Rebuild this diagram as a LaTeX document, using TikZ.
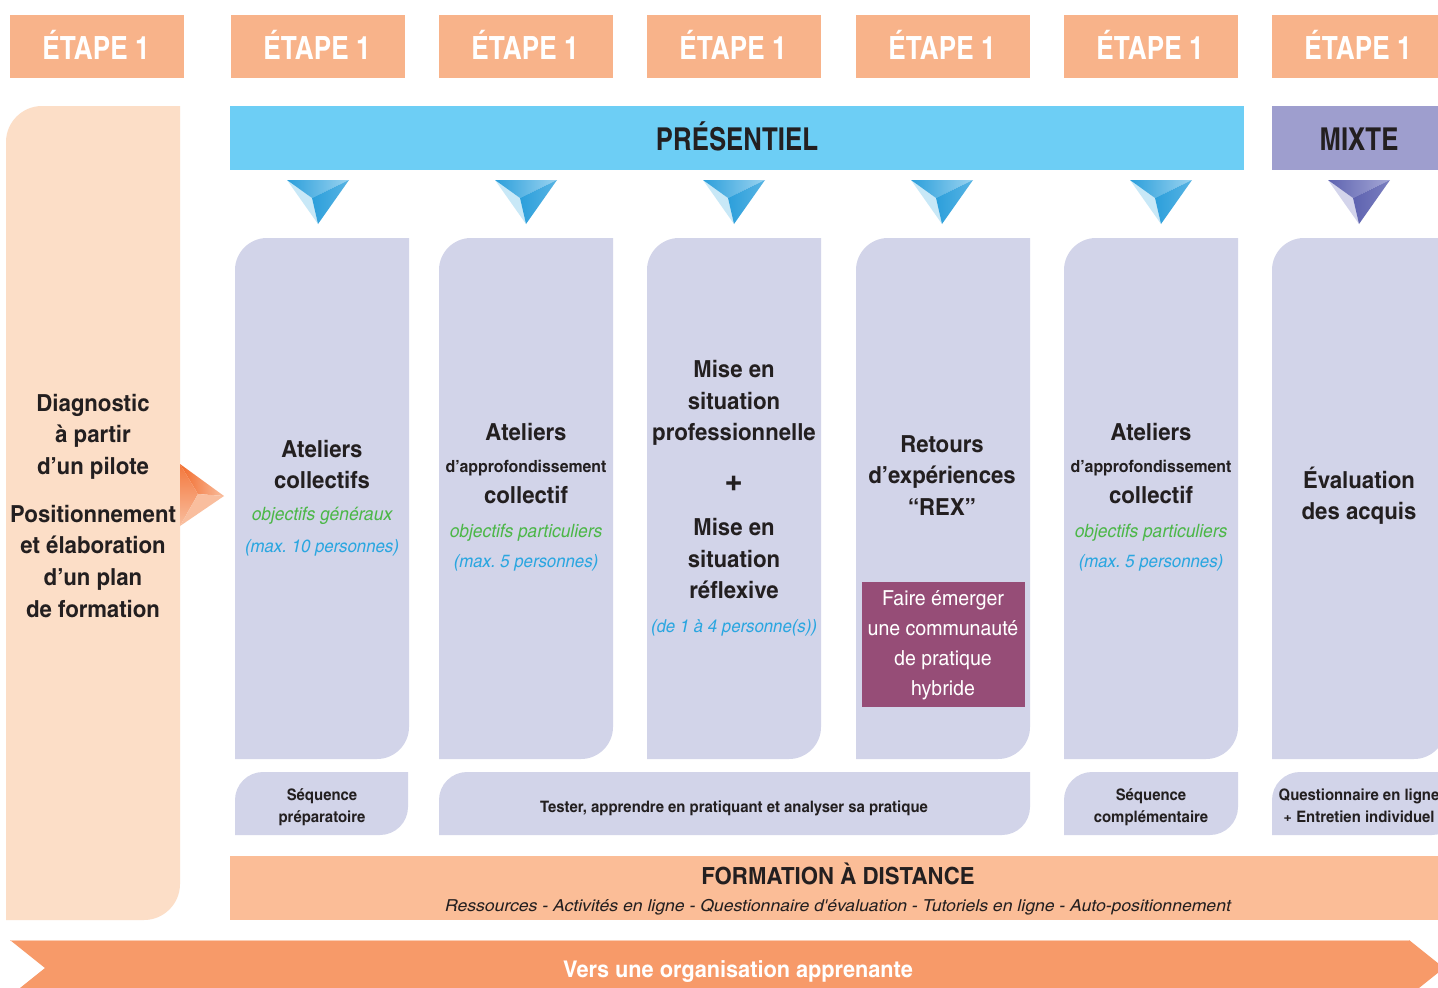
\documentclass[tikz,border=0pt]{standalone}
\usepackage{fontspec}
\setmainfont{texgyreheroscn}[Extension=.otf,UprightFont=*-regular,BoldFont=*-bold,ItalicFont=*-italic,BoldItalicFont=*-bolditalic,FakeStretch=1.15]
\newfontfamily\hdfont{texgyreheroscn}[Extension=.otf,UprightFont=*-regular,BoldFont=*-bold,ItalicFont=*-italic,BoldItalicFont=*-bolditalic]
\newfontfamily\itwide{texgyreheroscn}[Extension=.otf,UprightFont=*-regular,BoldFont=*-bold,ItalicFont=*-italic,BoldItalicFont=*-bolditalic,FakeStretch=1.3]
\frenchspacing
\definecolor{etapec}{HTML}{F8B38A}
\definecolor{leftc}{HTML}{FCDEC7}
\definecolor{presc}{HTML}{6DCEF5}
\definecolor{mixtec}{HTML}{9E9ECE}
\definecolor{lavc}{HTML}{D2D4E9}
\definecolor{purpc}{HTML}{964D77}
\definecolor{formc}{HTML}{FBBD97}
\definecolor{bandc}{HTML}{F79A69}
\definecolor{darkc}{HTML}{231F20}
\definecolor{greenc}{HTML}{4CB748}
\definecolor{bluec}{HTML}{2AA6E0}
\definecolor{tbdark}{HTML}{2C9FDB}
\definecolor{tbleft}{HTML}{C8E8F7}
\definecolor{tbright}{HTML}{9AD3F0}
\definecolor{tmdark}{HTML}{5E63B0}
\definecolor{tmleft}{HTML}{D3D4EB}
\definecolor{tmright}{HTML}{A5A8D6}
\definecolor{ordark}{HTML}{F26B2C}
\definecolor{orlight}{HTML}{F9BE9E}
\newcommand\mytlbr[6]{%
  \fill[#1] (#2,#5) -- (#2,#3+#6) .. controls (#2,#3+0.45*#6) and (#2+0.45*#6,#3) .. (#2+#6,#3)
   -- (#4,#3) -- (#4,#5-#6) .. controls (#4,#5-0.45*#6) and (#4-0.45*#6,#5) .. (#4-#6,#5) -- cycle;}
\newcommand\mytri[4]{% x center, dark, light-left, light-right
  \fill[#3] (#1-31,180) -- (#1-6,198) -- (#1,224) -- cycle;
  \shade[left color=#2, right color=#4] (#1-31,180) -- (#1+31,180) -- (#1-6,198) -- cycle;
  \shade[left color=#2, right color=#2!60!#4] (#1-6,198) -- (#1+31,180) -- (#1,224) -- cycle;}
\begin{document}
\begin{tikzpicture}[x=1pt,y=-1pt,
  every node/.style={inner sep=0pt, anchor=base, align=center},
  etapetxt/.style={font=\hdfont\bfseries\fontsize{32}{32}\selectfont, text=white},
  headtxt/.style={font=\hdfont\bfseries\fontsize{31.5}{31.5}\selectfont, text=darkc},
  bigtxt/.style={font=\bfseries\fontsize{23.5}{23.5}\selectfont, text=darkc},
  plustxt/.style={font=\hdfont\bfseries\fontsize{40}{40}\selectfont, text=darkc},
  midtxt/.style={font=\bfseries\fontsize{16.8}{16.8}\selectfont, text=darkc},
  greentxt/.style={font=\itshape\fontsize{18.4}{18.4}\selectfont, text=greenc},
  bluetxt/.style={font=\itshape\fontsize{17.8}{17.8}\selectfont, text=bluec},
  purptxt/.style={font=\fontsize{20.7}{20.7}\selectfont, text=white},
  smalltxt/.style={font=\bfseries\fontsize{15.8}{15.8}\selectfont, text=darkc},
  ittxt/.style={font=\itwide\itshape\fontsize{16.5}{16.5}\selectfont, text=darkc},
  fadtxt/.style={font=\bfseries\fontsize{23.6}{23.6}\selectfont, text=darkc},
  bandtxt/.style={font=\bfseries\fontsize{23}{23}\selectfont, text=white}]
\useasboundingbox (0,0) rectangle (1438,988);
\clip (0,0) rectangle (1438,988);
\fill[white] (0,0) rectangle (1438,988);
% ETAPE boxes
\foreach \x [count=\i] in {10,231,439,647,856,1064,1272}{
  \fill[etapec] (\x,15) rectangle ++(174,63);
  \node[etapetxt] (et\i) at (\x+86,59) {ÉTAPE 1};
}
% left box
\mytlbr{leftc}{6}{106}{180}{920}{36}
\shade[left color=ordark, right color=orlight] (180,464) -- (224,496) -- (198,494) -- cycle;
\shade[top color=ordark!85!orlight, bottom color=orlight] (180,464) -- (198,494) -- (180,526) -- cycle;
\fill[orlight] (180,526) -- (198,494) -- (224,496) -- cycle;
\node[bigtxt] (l1) at (93,411) {Diagnostic};
\node[bigtxt] (l2) at (93,442) {à partir};
\node[bigtxt] (l3) at (93,474) {d'un pilote};
\node[bigtxt] (l4) at (93,522) {Positionnement};
\node[bigtxt] (l5) at (93,553) {et élaboration};
\node[bigtxt] (l6) at (93,585) {d'un plan};
\node[bigtxt] (l7) at (93,617) {de formation};
% header bars
\fill[presc] (230,106) rectangle (1244,170);
\node[headtxt] (pres) at (737,150) {PRÉSENTIEL};
\fill[mixtec] (1272,106) rectangle (1438,170);
\node[headtxt] (mixte) at (1359,150) {MIXTE};
% triangles
\foreach \x in {318,526,734,942,1161}{ \mytri{\x}{tbdark}{tbleft}{tbright} }
\mytri{1359}{tmdark}{tmleft}{tmright}
% columns
\foreach \x in {235,439,647,856,1064,1272}{ \mytlbr{lavc}{\x}{238}{\x+174}{759}{32} }
% bottom boxes
\mytlbr{lavc}{235}{772}{408}{835}{28}
\mytlbr{lavc}{439}{772}{1030}{835}{28}
\mytlbr{lavc}{1064}{772}{1238}{835}{28}
\mytlbr{lavc}{1272}{772}{1460}{835}{28}
% column 1
\node[bigtxt] (c1a) at (322,457) {Ateliers};
\node[bigtxt] (c1b) at (322,488) {collectifs};
\node[greentxt] (c1c) at (322,520) {objectifs généraux};
\node[bluetxt] (c1d) at (322,552) {(max. 10 personnes)};
% column 2
\node[bigtxt] (c2a) at (526,440) {Ateliers};
\node[midtxt] (c2b) at (526,472) {d'approfondissement};
\node[bigtxt] (c2c) at (526,503) {collectif};
\node[greentxt] (c2d) at (526,537) {objectifs particuliers};
\node[bluetxt] (c2e) at (526,567) {(max. 5 personnes)};
% column 3
\node[bigtxt] (c3a) at (734,377) {Mise en};
\node[bigtxt] (c3b) at (734,409) {situation};
\node[bigtxt] (c3c) at (734,440) {professionnelle};
\node[plustxt] (c3d) at (734,493) {+};
\node[bigtxt] (c3e) at (734,535) {Mise en};
\node[bigtxt] (c3f) at (734,567) {situation};
\node[bigtxt] (c3g) at (734,598) {réflexive};
\node[bluetxt] (c3h) at (734,632) {(de 1 à 4 personne(s))};
% column 4
\node[bigtxt] (c4a) at (942,452) {Retours};
\node[bigtxt] (c4b) at (942,483) {d'expériences};
\node[bigtxt] (c4c) at (942,515) {“REX”};
\fill[purpc] (862,582) rectangle (1025,707);
\node[purptxt] (p1) at (943,605) {Faire émerger};
\node[purptxt] (p2) at (943,635) {une communauté};
\node[purptxt] (p3) at (943,665) {de pratique};
\node[purptxt] (p4) at (943,695) {hybride};
% column 5
\node[bigtxt] (c5a) at (1151,440) {Ateliers};
\node[midtxt] (c5b) at (1151,472) {d'approfondissement};
\node[bigtxt] (c5c) at (1151,503) {collectif};
\node[greentxt] (c5d) at (1151,537) {objectifs particuliers};
\node[bluetxt] (c5e) at (1151,567) {(max. 5 personnes)};
% column 6
\node[bigtxt] (c6a) at (1359,488) {Évaluation};
\node[bigtxt] (c6b) at (1359,519) {des acquis};
% bottom texts
\node[smalltxt] (b1a) at (322,800) {Séquence};
\node[smalltxt] (b1b) at (322,822) {préparatoire};
\node[smalltxt] (b2) at (734,812) {Tester, apprendre en pratiquant et analyser sa pratique};
\node[smalltxt] (b3a) at (1151,800) {Séquence};
\node[smalltxt] (b3b) at (1151,822) {complémentaire};
\node[smalltxt] (b4a) at (1359,800) {Questionnaire en ligne};
\node[smalltxt] (b4b) at (1359,822) {+ Entretien individuel};
% formation a distance
\fill[formc] (230,856) rectangle (1438,920);
\node[fadtxt] (fad) at (838,884) {FORMATION À DISTANCE};
\node[ittxt] (fadl) at (838,911) {Ressources - Activités en ligne - Questionnaire d'évaluation - Tutoriels en ligne - Auto-positionnement};
% band arrow
\fill[bandc] (10,940) -- (1409,940) -- (1444,968) -- (1409,996) -- (10,996) -- (45,968) -- cycle;
\draw[bandc!50!white, line width=1pt] (11,940.5) -- (1409,940.5);
\node[bandtxt] (band) at (738,977) {Vers une organisation apprenante};
\end{tikzpicture}
\end{document}
